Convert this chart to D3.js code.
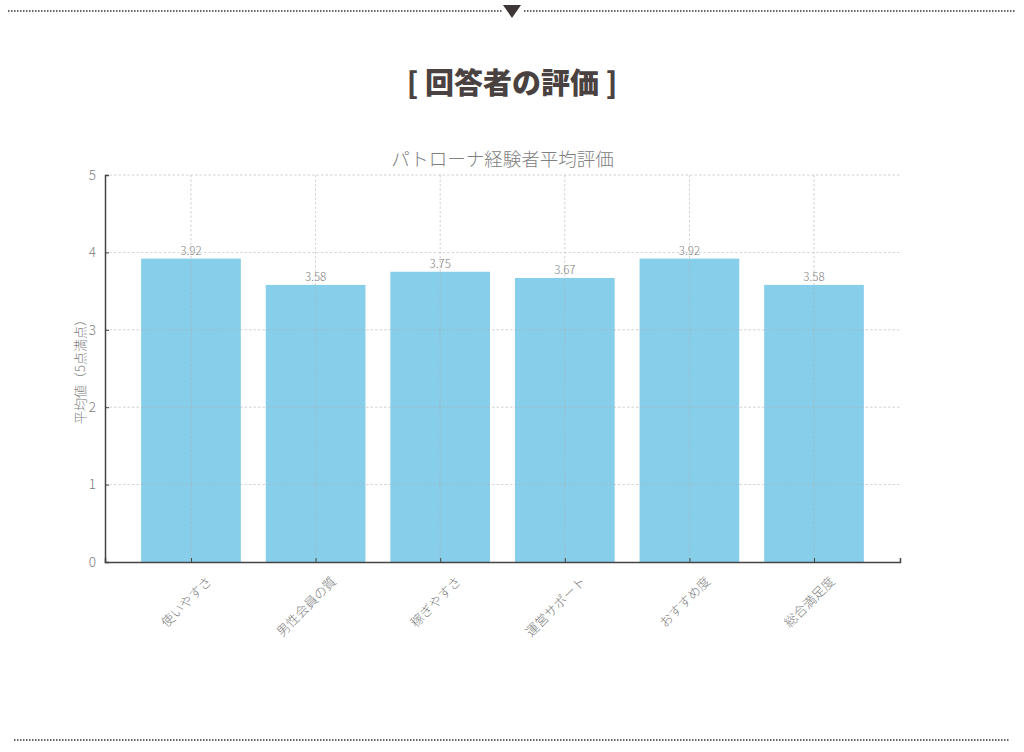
<!DOCTYPE html>
<html>
<head>
<meta charset="utf-8">
<script src="https://cdn.jsdelivr.net/npm/d3@7"></script>
<style>
  body { margin: 0; background: #fff; }
  svg { display: block; }
</style>
</head>
<body>
<div id="plot"></div>
<script>
// Chart data
var categories = ["使いやすさ", "男性会員の質", "稼ぎやすさ", "運営サポート", "おすすめ度", "総合満足度"];
var scores = [3.92, 3.58, 3.75, 3.67, 3.92, 3.58];
var yTicks = [0, 1, 2, 3, 4, 5];

var W = 1024, H = 752;
var margin = {top: 175, right: 124, bottom: 190, left: 105},
	width = W - margin.left - margin.right,
	height = H - margin.top - margin.bottom;

var font = "'Noto Sans CJK JP', 'Noto Sans', sans-serif";

var svg = d3.select("#plot")
	.append("svg")
	.attr("width", W)
	.attr("height", H);

// Decorative dotted rules and header
function dotted(x1, x2, y) {
	svg.append("line")
		.attr("x1", x1).attr("x2", x2)
		.attr("y1", y).attr("y2", y)
		.attr("stroke", "#666")
		.attr("stroke-width", 2)
		.attr("stroke-dasharray", "1.5,1.5");
}
dotted(8, 502, 11);
dotted(524, 1016, 11);
dotted(14, 1010, 740);
svg.append("path")
	.attr("d", "M503,5 L521,5 L512,18 Z")
	.attr("fill", "#3d3636");

svg.append("text")
	.attr("x", W / 2)
	.attr("y", 94)
	.attr("text-anchor", "middle")
	.style("font-family", font)
	.style("font-weight", 900)
	.style("font-size", "29px")
	.attr("fill", "#4a4240")
	.text("[ 回答者の評価 ]");

var g = svg.append("g")
	.attr("transform", "translate(" + margin.left + "," + margin.top + ")");

// Scales (matplotlib-like: bar width 0.8, 5% margins)
var idx = d3.range(categories.length);
var x = d3.scaleLinear()
	.domain([-0.69, categories.length - 1 + 0.69])
	.range([0, width]);
var barW = x(0.8) - x(0);

var y = d3.scaleLinear()
	.domain([0, 5])
	.range([height, 0]);

// Bars
g.selectAll("rect.bar")
	.data(idx)
	.enter()
	.append("rect")
		.attr("class", "bar")
		.attr("x", function(i) { return x(i) - barW / 2; })
		.attr("y", function(i) { return y(scores[i]); })
		.attr("width", barW)
		.attr("height", function(i) { return height - y(scores[i]); })
		.attr("fill", "#87ceeb");

// Grid on top of bars
g.append("g")
	.selectAll("line")
	.data(yTicks.slice(1))
	.enter().append("line")
		.attr("x1", 0).attr("x2", width)
		.attr("y1", function(d) { return y(d); })
		.attr("y2", function(d) { return y(d); })
		.attr("stroke", "#b0b0b0")
		.attr("stroke-width", 0.8)
		.attr("stroke-dasharray", "2.5,2")
		.attr("opacity", 0.7);
g.append("g")
	.selectAll("line")
	.data(idx)
	.enter().append("line")
		.attr("x1", function(i) { return x(i); })
		.attr("x2", function(i) { return x(i); })
		.attr("y1", 0).attr("y2", height)
		.attr("stroke", "#b0b0b0")
		.attr("stroke-width", 0.8)
		.attr("stroke-dasharray", "2.5,2")
		.attr("opacity", 0.7);

// Value labels
g.selectAll("text.val")
	.data(idx)
	.enter()
	.append("text")
		.attr("class", "val")
		.attr("x", function(i) { return x(i); })
		.attr("y", function(i) { return y(scores[i]) - 4; })
		.attr("text-anchor", "middle")
		.style("font-family", font)
		.style("font-weight", 300)
		.style("font-size", "11.5px")
		.attr("fill", "#808080")
		.text(function(i) { return scores[i].toFixed(2); });

// Y axis
var yAxis = g.append("g")
	.call(d3.axisLeft(y).tickValues(yTicks).tickSize(-4).tickPadding(9).tickFormat(d3.format("d")));
yAxis.select(".domain").attr("stroke", "#444").attr("stroke-width", 1.5);
yAxis.selectAll(".tick line").attr("stroke", "#444");
yAxis.selectAll("text")
	.style("font-family", font)
	.style("font-weight", 300)
	.style("font-size", "13.5px")
	.attr("fill", "#808080");

// X axis
var xAxis = g.append("g")
	.attr("transform", "translate(0," + height + ")")
	.call(d3.axisBottom(x).tickValues(idx).tickSize(-4).tickPadding(0)
		.tickFormat(function(i) { return categories[i]; }));
xAxis.select(".domain").attr("stroke", "#444").attr("stroke-width", 1.5);
xAxis.selectAll(".tick line").attr("stroke", "#444");
xAxis.selectAll("text")
	.style("font-family", font)
	.style("font-weight", 300)
	.style("font-size", "13px")
	.attr("fill", "#808080")
	.attr("text-anchor", "end")
	.attr("dy", "0.35em")
	.attr("transform", "translate(18,17) rotate(-45)");

// Chart title
g.append("text")
	.attr("x", width / 2)
	.attr("y", -9)
	.attr("text-anchor", "middle")
	.style("font-family", font)
	.style("font-weight", 300)
	.style("font-size", "18.5px")
	.attr("fill", "#808080")
	.text("パトローナ経験者平均評価");

// Y axis label
g.append("text")
	.attr("transform", "rotate(-90)")
	.attr("x", -height / 2)
	.attr("y", -20)
	.attr("text-anchor", "middle")
	.style("font-family", font)
	.style("font-weight", 300)
	.style("font-size", "13px")
	.attr("fill", "#808080")
	.text("平均値（5点満点）");
</script>
</body>
</html>
